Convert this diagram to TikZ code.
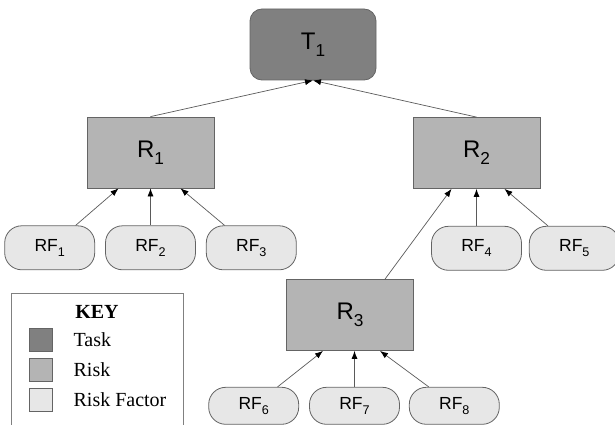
\documentclass[tikz,border=0pt]{standalone}
\usepackage{graphicx}
\usepackage{fontspec}
\setmainfont{Liberation Serif}
\newfontfamily\boxfont{Liberation Sans}
\usetikzlibrary{arrows.meta,positioning,calc}
\newcommand{\idx}[1]{\raisebox{-0.3em}{\scalebox{0.72}{#1}}}
\definecolor{taskgray}{RGB}{128,128,128}
\definecolor{riskgray}{RGB}{180,180,180}
\definecolor{factorgray}{RGB}{231,231,231}
\definecolor{rimgray}{RGB}{100,100,100}
\definecolor{linkgray}{RGB}{90,90,90}
\tikzset{
	task/.style={
		rectangle,
		rounded corners=12pt,
		draw=rimgray,
		line width=0.8pt,
		fill=taskgray,
		minimum height=71pt,
		minimum width=126pt,
		font=\boxfont\fontsize{24}{28}\selectfont,
	},
	risk/.style={
		rectangle,
		draw=rimgray,
		line width=0.8pt,
		fill=riskgray,
		minimum height=71pt,
		minimum width=127pt,
		font=\boxfont\fontsize{24}{28}\selectfont,
	},
	factor/.style={
		rectangle,
		rounded corners=17pt,
		draw=rimgray,
		line width=0.8pt,
		fill=factorgray,
		minimum height=44pt,
		minimum width=90pt,
		font=\boxfont\fontsize{17.5}{20}\selectfont,
	},
	link/.style={
		-{Latex[length=8pt,width=6pt,color=black]},
		draw=linkgray,
		line width=0.7pt,
	},
	swatch/.style={
		rectangle,
		draw=rimgray,
		line width=0.8pt,
		minimum size=23pt,
		inner sep=0pt,
	},
	keytext/.style={
		inner sep=0pt,
		font=\fontsize{20}{24}\selectfont,
	},
}

\begin{document}
\begin{tikzpicture}[x=1pt,y=-1pt,node distance=37pt and 10pt]
\useasboundingbox (0,0) rectangle (615,425);

\node[task] (t1) at (313,44.5) {T\idx{1}};
\node[risk] (r1) at (150.5,152.5) {R\idx{1}};
\node[risk] (r2) at (476.5,153) {R\idx{2}};
\node[risk] (r3) at (350,315) {R\idx{3}};

\node[factor] (rf2) [below=of r1] {RF\idx{2}};
\node[factor] (rf1) [left=of rf2] {RF\idx{1}};
\node[factor] (rf3) [right=of rf2] {RF\idx{3}};
\node[factor] (rf4) [below=of r2] {RF\idx{4}};
\node[factor] (rf5) [right=7pt of rf4] {RF\idx{5}};
\node[factor,minimum height=37pt] (rf7) [below=36pt of r3,xshift=4.5pt] {RF\idx{7}};
\node[factor,minimum height=37pt] (rf6) [left=of rf7] {RF\idx{6}};
\node[factor,minimum height=37pt] (rf8) [right=9pt of rf7] {RF\idx{8}};

% key
\node[draw=gray,line width=0.8pt,anchor=north west,minimum width=172pt,minimum height=140pt] (key) at (11,293) {};
\node[keytext,font=\bfseries\fontsize{20}{24}\selectfont] (keytitle) at (97,312) {KEY};
\node[swatch,fill=taskgray] (keytask) at (40.5,339.5) {};
\node[swatch,fill=riskgray] (keyrisk) [below=6.5pt of keytask] {};
\node[swatch,fill=factorgray] (keyfactor) [below=6.5pt of keyrisk] {};
\node[keytext] (tasklabel) [right=21pt of keytask] {Task};
\node[keytext] (risklabel) [right=21pt of keyrisk] {Risk};
\node[keytext] (factorlabel) [right=21pt of keyfactor] {Risk Factor};

\draw[link]
  (r1.north)
  --
  (t1.south);

\draw[link]
  (r2.north)
  --
  (t1.south);

\draw[link]
  ($(r3.north)+(35,0)$)
  --
  ($(r2.south)+(-25,0)$);

\draw[link]
  (rf1)
  --
  ($(r1.south)+(-32,0)$);

\draw[link]
  (rf2)
  --
  (rf2 |- r1.south);

\draw[link]
  (rf3)
  --
  ($(r1.south)+(30,0)$);

\draw[link]
  (rf4)
  --
  (rf4 |- r2.south);

\draw[link]
  (rf5)
  --
  ($(r2.south)+(28,0)$);

\draw[link]
  (rf6)
  --
  ($(r3.south)+(-27,0)$);

\draw[link]
  (rf7)
  --
  (rf7 |- r3.south);

\draw[link]
  (rf8)
  --
  ($(r3.south)+(30,0)$);

\end{tikzpicture}
\end{document}
